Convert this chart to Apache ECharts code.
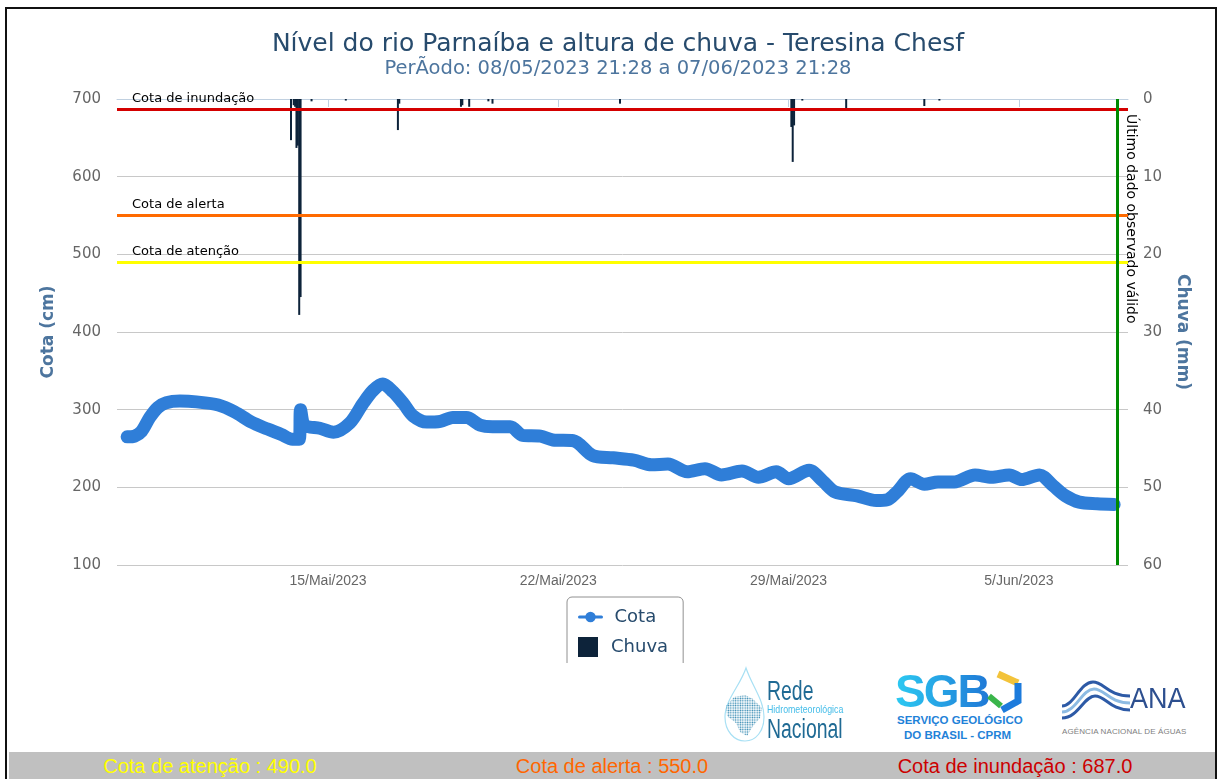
<!DOCTYPE html>
<html>
<head>
<meta charset="utf-8">
<title>Nível do rio Parnaíba e altura de chuva - Teresina Chesf</title>
<script src="https://cdn.jsdelivr.net/npm/echarts@6/dist/echarts.min.js"></script>
<style>
  html, body { margin: 0; padding: 0; width: 1223px; height: 779px; overflow: hidden; background: #fff; }
  #frame { position: absolute; left: 5px; top: 7px; width: 1208px; height: 820px; border: 2px solid #111; }
  #chart { position: absolute; left: 0; top: 0; width: 1236px; height: 663px; }
  .lg { position: absolute; white-space: nowrap; transform-origin: left top; line-height: 1; }
  #footer { position: absolute; left: 9px; top: 752px; width: 1206px; height: 40px; background: #c0c0c0; }
  .ft { position: absolute; top: 3px; font-family: "Liberation Sans", Arial, sans-serif; font-size: 20px; white-space: nowrap; transform: translateX(-50%); }
</style>
</head>
<body>
<div id="frame"></div>
<div id="chart"></div>

<!-- logos -->
<svg class="lg" style="left:720px;top:666px" width="46" height="78" viewBox="0 0 46 78">
  <defs>
    <pattern id="dots" width="2.4" height="2.4" patternUnits="userSpaceOnUse">
      <circle cx="1.2" cy="1.2" r="0.8" fill="#2a84ae"/>
    </pattern>
  </defs>
  <path d="M26 2 C20 20 5 34 5 51 C5 65 14 75 25 75 C36 75 44 65 44 51 C44 34 32 20 26 2 Z" fill="none" stroke="#a8e0f4" stroke-width="1.2"/>
  <path d="M6 40 L14 31 L25 29 L33 33 L42 42 L40 52 L33 60 L27 70 L20 66 L16 57 L7 50 Z" fill="url(#dots)"/>
</svg>
<div class="lg" style="left:767px;top:678px;font:27px 'Liberation Sans';line-height:1;color:#1f6a94;transform:scaleX(.72)">Rede</div>
<div class="lg" style="left:767px;top:704px;font:11px 'Liberation Sans';line-height:1;color:#45bde9;transform:scaleX(.8)">Hidrometeorológica</div>
<div class="lg" style="left:767px;top:716px;font:27px 'Liberation Sans';line-height:1;color:#1f6a94;transform:scaleX(.72)">Nacional</div>

<div class="lg" style="left:895px;top:668px;font:900 46px 'Liberation Sans';line-height:1;letter-spacing:-2px;background:linear-gradient(90deg,#2ccaf2,#1f78d6);-webkit-background-clip:text;background-clip:text;color:transparent">SGB</div>
<svg class="lg" style="left:984px;top:670px" width="40" height="44" viewBox="0 0 40 44">
  <path d="M14 4 L34 13" stroke="#f3c33a" stroke-width="7" fill="none"/>
  <path d="M34 13 L34 31 L18 40" stroke="#1c7bdc" stroke-width="7" fill="none"/>
  <path d="M5 26 L17 36" stroke="#3ab54a" stroke-width="6" fill="none"/>
</svg>
<div class="lg" style="left:897px;top:715px;font:bold 11.5px 'Liberation Sans';line-height:1;color:#1f82d8">SERVIÇO GEOLÓGICO</div>
<div class="lg" style="left:904px;top:730px;font:bold 11.5px 'Liberation Sans';line-height:1;color:#1f82d8">DO BRASIL - CPRM</div>

<svg class="lg" style="left:1060px;top:676px" width="72" height="48" viewBox="0 0 72 48">
  <path d="M2 30 C14 30 20 6 33 6 C44 6 48 20 70 20" stroke="#2d5aa6" stroke-width="3" fill="none"/>
  <path d="M2 36 C16 36 22 13 34 13 C45 13 49 27 70 27" stroke="#8dbbe3" stroke-width="3" fill="none"/>
  <path d="M2 42 C18 42 24 20 35 20 C46 20 50 34 70 34" stroke="#2d5aa6" stroke-width="3" fill="none"/>
</svg>
<div class="lg" style="left:1130px;top:683px;font:30px 'Liberation Sans';line-height:1;color:#2d4f8f;transform:scaleX(.9)">ANA</div>
<div class="lg" style="left:1062px;top:728px;font:8px 'Liberation Sans';line-height:1;color:#808080;letter-spacing:0.1px">AGÊNCIA NACIONAL DE ÁGUAS</div>

<div id="footer">
  <div class="ft" style="left:201px;color:#ffff00">Cota de atenção : 490.0</div>
  <div class="ft" style="left:603px;color:#ff6600">Cota de alerta : 550.0</div>
  <div class="ft" style="left:1006px;color:#cc0000">Cota de inundação : 687.0</div>
</div>

<script>
// nível do rio (cm)
const cotaTimes = [
  '2023-05-08 21:28', '2023-05-09 03:00', '2023-05-09 08:00', '2023-05-09 14:00', '2023-05-09 20:00',
  '2023-05-10 02:00', '2023-05-10 12:00', '2023-05-11 00:00', '2023-05-11 16:00', '2023-05-12 04:00',
  '2023-05-12 16:00', '2023-05-13 04:00', '2023-05-13 14:00', '2023-05-13 22:00', '2023-05-14 03:00',
  '2023-05-14 04:00', '2023-05-14 07:00', '2023-05-14 18:00', '2023-05-15 04:00', '2023-05-15 16:00',
  '2023-05-16 01:30', '2023-05-16 09:00', '2023-05-16 16:00', '2023-05-16 23:30', '2023-05-17 07:00',
  '2023-05-17 14:00', '2023-05-18 00:00', '2023-05-18 10:00', '2023-05-18 19:00', '2023-05-19 05:00',
  '2023-05-19 15:00', '2023-05-20 00:00', '2023-05-20 13:00', '2023-05-20 22:00', '2023-05-21 11:00',
  '2023-05-21 20:00', '2023-05-22 11:00', '2023-05-23 01:00', '2023-05-23 16:00', '2023-05-24 07:00',
  '2023-05-24 20:00', '2023-05-25 08:00', '2023-05-25 22:00', '2023-05-26 11:00', '2023-05-26 23:00',
  '2023-05-27 14:00', '2023-05-28 02:00', '2023-05-28 15:00', '2023-05-29 00:00', '2023-05-29 15:00',
  '2023-05-30 01:00', '2023-05-30 10:00', '2023-05-31 02:00', '2023-05-31 16:00', '2023-06-01 00:00',
  '2023-06-01 07:00', '2023-06-01 17:00', '2023-06-02 03:00', '2023-06-02 13:00', '2023-06-03 01:00',
  '2023-06-03 16:00', '2023-06-04 04:00', '2023-06-04 17:00', '2023-06-05 02:00', '2023-06-05 15:00',
  '2023-06-06 01:00', '2023-06-06 10:00', '2023-06-06 20:00', '2023-06-07 09:00', '2023-06-07 21:28'
]
const cotaValues = [
  265, 266, 272, 290, 303, 309, 311, 310, 306, 297,
  284, 275, 268, 262, 262, 300, 280, 276, 271, 283,
  308, 325, 333, 323, 308, 292, 284, 285, 290, 290,
  280, 278, 278, 267, 266, 261, 260, 241, 238, 235,
  229, 230, 220, 224, 216, 221, 213, 220, 211, 222,
  208, 194, 189, 183, 184, 194, 211, 204, 207, 207,
  216, 213, 216, 210, 216, 202, 189, 181, 179, 178
]

// chuva (mm)
const chuvaTimes = [
  '2023-05-13 21:00', '2023-05-13 23:00', '2023-05-14 00:00', '2023-05-14 01:00', '2023-05-14 02:00',
  '2023-05-14 03:00', '2023-05-14 04:00', '2023-05-14 12:00', '2023-05-15 13:00', '2023-05-17 03:00',
  '2023-05-17 04:00', '2023-05-19 01:00', '2023-05-19 02:00', '2023-05-19 07:00', '2023-05-19 21:00',
  '2023-05-20 00:00', '2023-05-23 21:00', '2023-05-29 02:00', '2023-05-29 03:00', '2023-05-29 04:00',
  '2023-05-29 10:00', '2023-05-30 18:00', '2023-06-02 03:00', '2023-06-02 14:00'
]
const chuvaValues = [
  5.3, 0.8, 1.0, 6.3, 6.0, 27.8, 25.5, 0.3, 0.2, 4.0,
  0.6, 1.0, 0.8, 1.0, 0.3, 0.6, 0.6, 3.6, 8.1, 3.4,
  0.2, 1.5, 0.9, 0.2
]

const tickDates = ['2023-05-15 00:00', '2023-05-22 00:00', '2023-05-29 00:00', '2023-06-05 00:00']
const mesesAbrev = ['Jan', 'Fev', 'Mar', 'Abr', 'Mai', 'Jun', 'Jul', 'Ago', 'Set', 'Out', 'Nov', 'Dez']
const cotaTicks = [100, 200, 300, 400, 500, 600, 700]
const chuvaTicks = [0, 10, 20, 30, 40, 50, 60]

const cotaAtencao = 490
const cotaAlerta = 550
const cotaInundacao = 687
const ultimoDado = '2023-06-08 00:00'
const inicioEixo = '2023-05-08 14:05'
const fimEixo = '2023-06-08 07:35'

function toTime(s) {
    const [d, t] = s.split(' ')
    const [y, m, dd] = d.split('-').map(Number)
    const [h, mi] = t.split(':').map(Number)
    return new Date(y, m - 1, dd, h, mi).getTime()
}

const fonte = '"DejaVu Sans", sans-serif'
const ticks = tickDates.map(toTime)

let myChart = echarts.init(document.getElementById('chart'))
myChart.setOption({
    animation: false,
    textStyle: { fontFamily: fonte },
    title: {
        text: 'Nível do rio Parnaíba e altura de chuva - Teresina Chesf',
        subtext: 'PerÃodo: 08/05/2023 21:28 a 07/06/2023 21:28',
        left: 'center',
        top: 27,
        itemGap: 2,
        textStyle: { fontSize: 25, fontWeight: 'normal', color: '#274b6d', fontFamily: fonte },
        subtextStyle: { fontSize: 19.5, color: '#4d759e', fontFamily: fonte }
    },
    legend: [
        {
            data: ['Cota'],
            orient: 'vertical',
            left: 567,
            top: 597,
            padding: [11, 27, 60, 11],
            itemWidth: 22,
            itemHeight: 13,
            borderColor: '#909090',
            borderWidth: 1,
            borderRadius: 5,
            selectedMode: false,
            lineStyle: { width: 3 },
            textStyle: { fontSize: 18, color: '#274b6d', padding: [0, 0, 0, 8] }
        },
        {
            data: [{ name: 'Chuva', icon: 'rect' }],
            orient: 'vertical',
            left: 567,
            top: 627,
            padding: [10, 10, 10, 11],
            itemWidth: 20,
            itemHeight: 20,
            selectedMode: false,
            textStyle: { fontSize: 18, color: '#274b6d', padding: [0, 0, 0, 8] }
        }
    ],
    grid: { left: 117, right: 108, top: 99, bottom: 98 },
    xAxis: {
        // eixo numérico com timestamps (datas nos rótulos via formatter)
        type: 'value',
        min: toTime(inicioEixo),
        max: toTime(fimEixo),
        axisLine: { lineStyle: { color: '#c0d0e0' } },
        axisTick: { customValues: ticks, length: 8, lineStyle: { color: '#c0d0e0' } },
        axisLabel: {
            customValues: ticks,
            color: '#666',
            fontSize: 14,
            margin: 9,
            fontFamily: '"Liberation Sans", Arial, sans-serif',
            formatter: function (v) {
                const d = new Date(v)
                return d.getDate() + '/' + mesesAbrev[d.getMonth()] + '/' + d.getFullYear()
            }
        },
        splitLine: { show: false }
    },
    yAxis: [
        {
            type: 'value',
            min: cotaTicks[0],
            max: cotaTicks[cotaTicks.length - 1],
            interval: cotaTicks[1] - cotaTicks[0],
            name: 'Cota (cm)',
            nameLocation: 'middle',
            nameGap: 60,
            nameRotate: 90,
            nameTextStyle: { color: '#4d759e', fontSize: 17, fontWeight: 'bold' },
            axisLine: { show: false },
            axisTick: { show: false },
            axisLabel: { color: '#666', fontSize: 15, margin: 16 },
            splitLine: { lineStyle: { color: '#c8c8c8' } }
        },
        {
            type: 'value',
            min: chuvaTicks[0],
            max: chuvaTicks[chuvaTicks.length - 1],
            interval: chuvaTicks[1] - chuvaTicks[0],
            inverse: true,
            position: 'right',
            name: 'Chuva (mm)',
            nameLocation: 'middle',
            nameGap: 46,
            nameRotate: -90,
            nameTextStyle: { color: '#4d759e', fontSize: 17, fontWeight: 'bold' },
            axisLine: { show: false },
            axisTick: { show: false },
            axisLabel: { color: '#666', fontSize: 15, margin: 15 },
            splitLine: { show: false }
        }
    ],
    series: [
        {
            name: 'Cota',
            type: 'line',
            yAxisIndex: 0,
            data: cotaTimes.map((t, i) => [toTime(t), cotaValues[i]]),
            smooth: 0.3,
            symbol: 'circle',
            symbolSize: 10,
            showSymbol: false,
            itemStyle: { color: '#2f7ed8' },
            lineStyle: { color: '#2f7ed8', width: 13, cap: 'round', join: 'round' },
            z: 3,
            markLine: {
                silent: true,
                symbol: 'none',
                label: {
                    position: 'insideStartTop',
                    distance: [15, 4],
                    color: '#000',
                    fontSize: 13,
                    fontFamily: fonte
                },
                data: [
                    { yAxis: cotaInundacao, label: { formatter: 'Cota de inundação' }, lineStyle: { color: '#d40000', width: 3, type: 'solid' } },
                    { yAxis: cotaAlerta, label: { formatter: 'Cota de alerta' }, lineStyle: { color: '#ff6a00', width: 3, type: 'solid' } },
                    { yAxis: cotaAtencao, label: { formatter: 'Cota de atenção' }, lineStyle: { color: '#ffff00', width: 3, type: 'solid' } },
                    { xAxis: toTime(ultimoDado), label: { show: false }, lineStyle: { color: '#008a00', width: 3, type: 'solid' } }
                ]
            }
        },
        {
            name: 'Chuva',
            type: 'bar',
            yAxisIndex: 1,
            data: chuvaTimes.map((t, i) => [toTime(t), chuvaValues[i]]),
            barWidth: 2,
            itemStyle: { color: '#0d233a' },
            z: 2
        }
    ]
})

// texto vertical junto à linha do último dado
const gx = myChart.convertToPixel({ xAxisIndex: 0 }, toTime(ultimoDado))
myChart.setOption({
    graphic: [{
        type: 'text',
        x: gx + 13,
        y: 114,
        rotation: -Math.PI / 2,
        silent: true,
        style: {
            text: 'Último dado observado válido',
            fill: '#000',
            fontSize: 14,
            fontFamily: fonte,
            align: 'left',
            verticalAlign: 'middle'
        }
    }]
})
</script>
</body>
</html>
